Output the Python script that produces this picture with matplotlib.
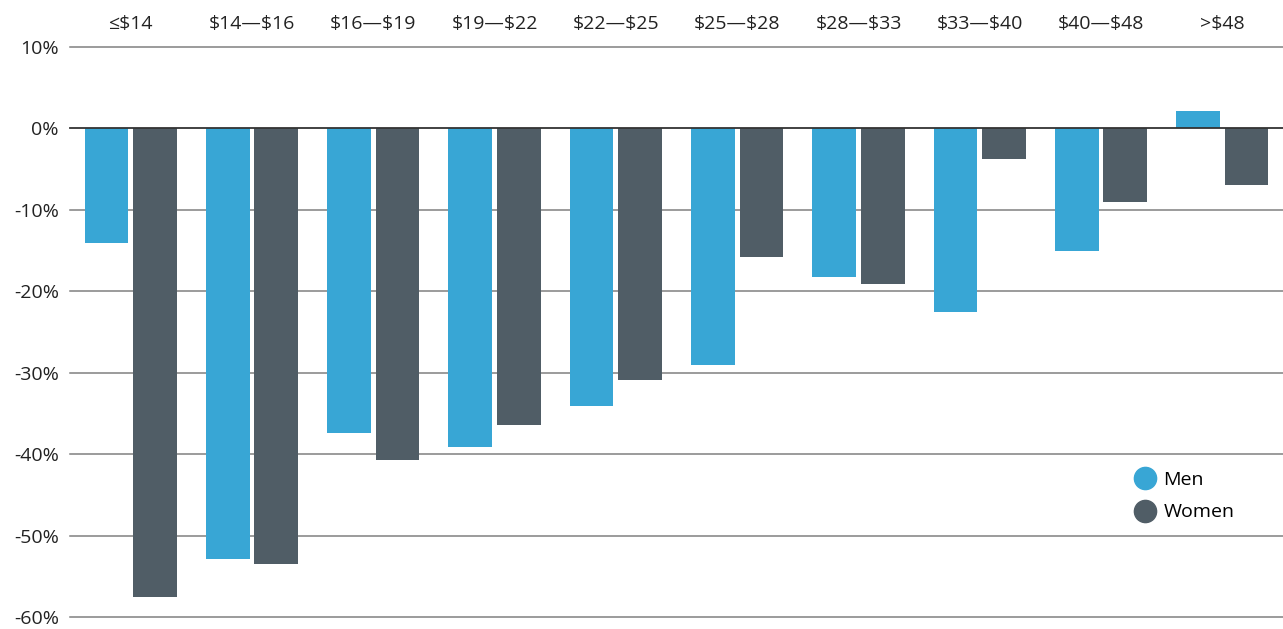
import matplotlib
matplotlib.use("Agg")
import matplotlib.pyplot as plt
from matplotlib.lines import Line2D
import numpy as np

categories = ["≤$14", "$14—$16", "$16—$19", "$19—$22", "$22—$25",
              "$25—$28", "$28—$33", "$33—$40", "$40—$48", ">$48"]
men = [-14.1, -52.9, -37.4, -39.1, -34.1, -29.0, -18.2, -22.6, -15.0, 2.1]
women = [-57.5, -53.5, -40.7, -36.4, -30.9, -15.8, -19.1, -3.7, -9.0, -6.9]
yticks = [10, 0, -10, -20, -30, -40, -50, -60]
ytick_labels = ["10%", "0%", "-10%", "-20%", "-30%", "-40%", "-50%", "-60%"]

men_color = "#38A6D5"
women_color = "#505D66"

plt.rcParams['font.family'] = ['Open Sans', 'DejaVu Sans']
plt.rcParams['text.parse_math'] = False

fig = plt.figure(figsize=(12.83, 6.29), dpi=100)
ax = fig.add_axes([70/1283, 12/629, 1 - 70/1283, 570/629])

x = np.arange(len(categories))
w = 0.36
off = 0.2
ax.bar(x - off, men, width=w, color=men_color, zorder=3)
ax.bar(x + off, women, width=w, color=women_color, zorder=3)

ax.set_xlim(-0.5, len(categories) - 0.5)
ax.set_ylim(-60, 10)

for t in yticks:
    if t == 0:
        ax.axhline(t, color="#333333", lw=1.3, zorder=4, clip_on=False)
    else:
        ax.axhline(t, color="#808080", lw=1.1, zorder=1, clip_on=False)

ax.set_yticks(yticks)
ax.set_yticklabels(ytick_labels, fontsize=14, color="#222222")
ax.tick_params(axis="y", length=0, pad=8)

ax.xaxis.tick_top()
ax.set_xticks(x)
ax.set_xticklabels(categories, fontsize=14, color="#222222")
ax.tick_params(axis="x", length=0, pad=10)

for s in ax.spines.values():
    s.set_visible(False)

handles = [Line2D([], [], marker="o", linestyle="none", markersize=16,
                  markerfacecolor=men_color, markeredgecolor=men_color, label="Men"),
           Line2D([], [], marker="o", linestyle="none", markersize=16,
                  markerfacecolor=women_color, markeredgecolor=women_color, label="Women")]
ax.legend(handles=handles, loc="center left", bbox_to_anchor=(0.862, 0.212),
          frameon=False, fontsize=14, handletextpad=0.35, labelspacing=0.75,
          handlelength=1.2)

fig.savefig("out.png", dpi=100)
